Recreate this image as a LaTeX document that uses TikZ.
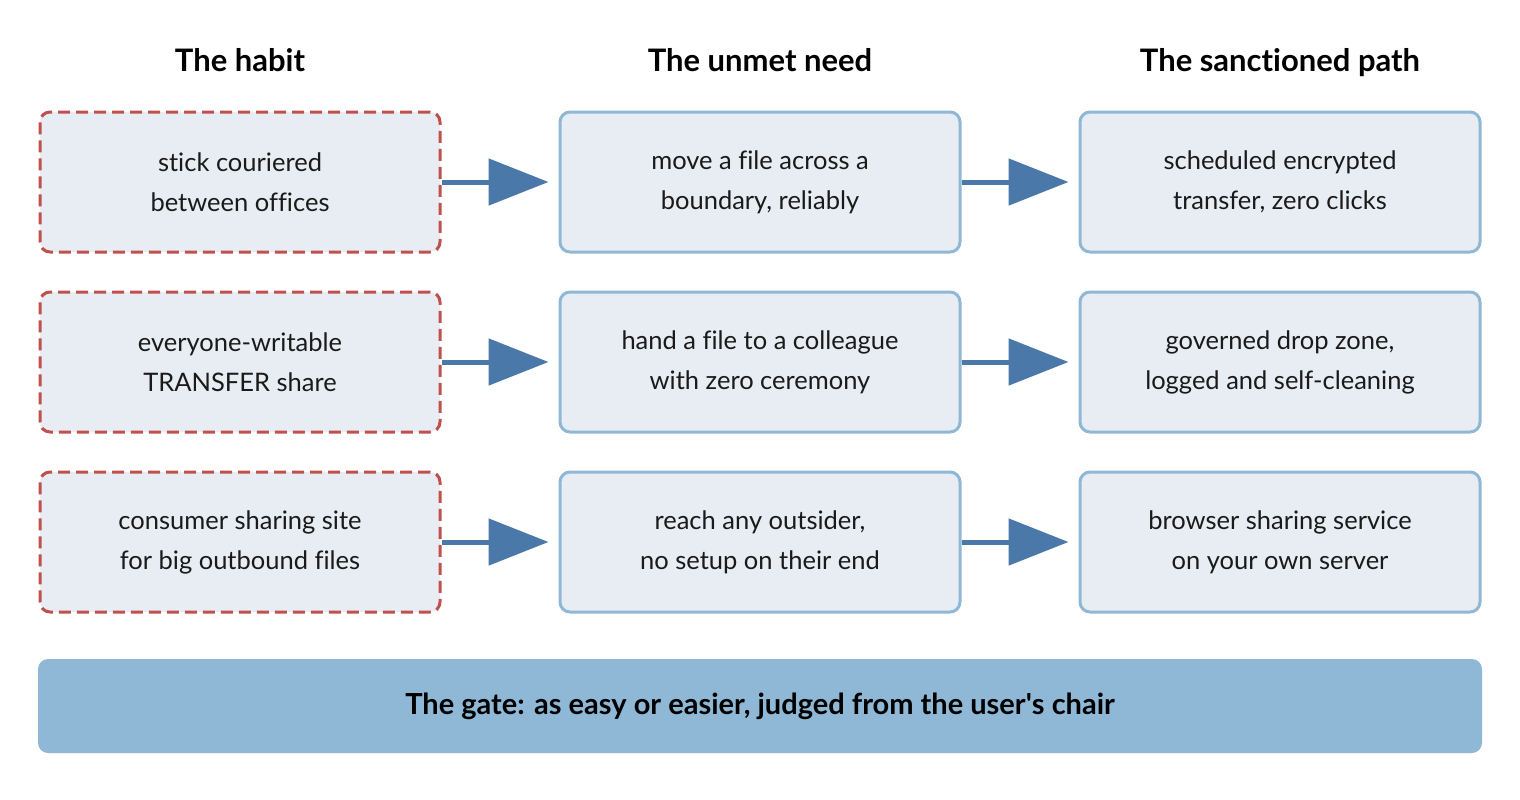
\documentclass[tikz,border=0pt]{standalone}
\usepackage{fontspec}
\setmainfont{Lato}[Ligatures={NoCommon}]
\usetikzlibrary{arrows.meta}
\definecolor{bfill}{HTML}{E8EDF3}
\definecolor{bline}{HTML}{8FB8D6}
\definecolor{rline}{HTML}{C0504D}
\definecolor{arr}{HTML}{4A78A8}
\definecolor{txt}{HTML}{1A1A1A}
\begin{document}
\begin{tikzpicture}[x=1pt,y=-1pt,
 box/.style={draw=bline,fill=bfill,line width=3pt,rounded corners=10pt,minimum width=400pt,minimum height=140pt,align=center,font=\fontsize{25.5}{40}\selectfont,text=txt},
 habit/.style={box,draw=rline,dash pattern=on 12pt off 6pt},
 head/.style={font=\fontsize{31}{36}\selectfont\bfseries,text=black,anchor=base},
 conn/.style={draw=arr,line width=5pt,-{Triangle[length=60pt,width=46pt]},shorten >=10pt}]
\useasboundingbox (0,0) rectangle (1520,800);
\node[head] (h1) at (240,71) {The habit};
\node[head] (h2) at (760,71) {The unmet need};
\node[head] (h3) at (1280,71) {The sanctioned path};
\node[habit] (a1) at (240,182) {stick couriered\\between offices};
\node[habit] (a2) at (240,362) {everyone-writable\\TRANSFER share};
\node[habit] (a3) at (240,542) {consumer sharing site\\for big outbound files};
\node[box] (b1) at (760,182) {move a file across a\\boundary, reliably};
\node[box] (b2) at (760,362) {hand a file to a colleague\\with zero ceremony};
\node[box] (b3) at (760,542) {reach any outsider,\\no setup on their end};
\node[box] (c1) at (1280,182) {scheduled encrypted\\transfer, zero clicks};
\node[box] (c2) at (1280,362) {governed drop zone,\\logged and self-cleaning};
\node[box] (c3) at (1280,542) {browser sharing service\\on your own server};
\foreach \i in {1,2,3}{
 \draw[conn] (a\i.east) -- (b\i.west);
 \draw[conn] (b\i.east) -- (c\i.west);}
\node[fill=bline,rounded corners=10pt,minimum width=1444pt,minimum height=94pt,font=\fontsize{29}{34}\selectfont\bfseries,text=black] (gate) at (760,706) {The gate: as easy or easier, judged from the user\textquotesingle s chair};
\end{tikzpicture}
\end{document}
